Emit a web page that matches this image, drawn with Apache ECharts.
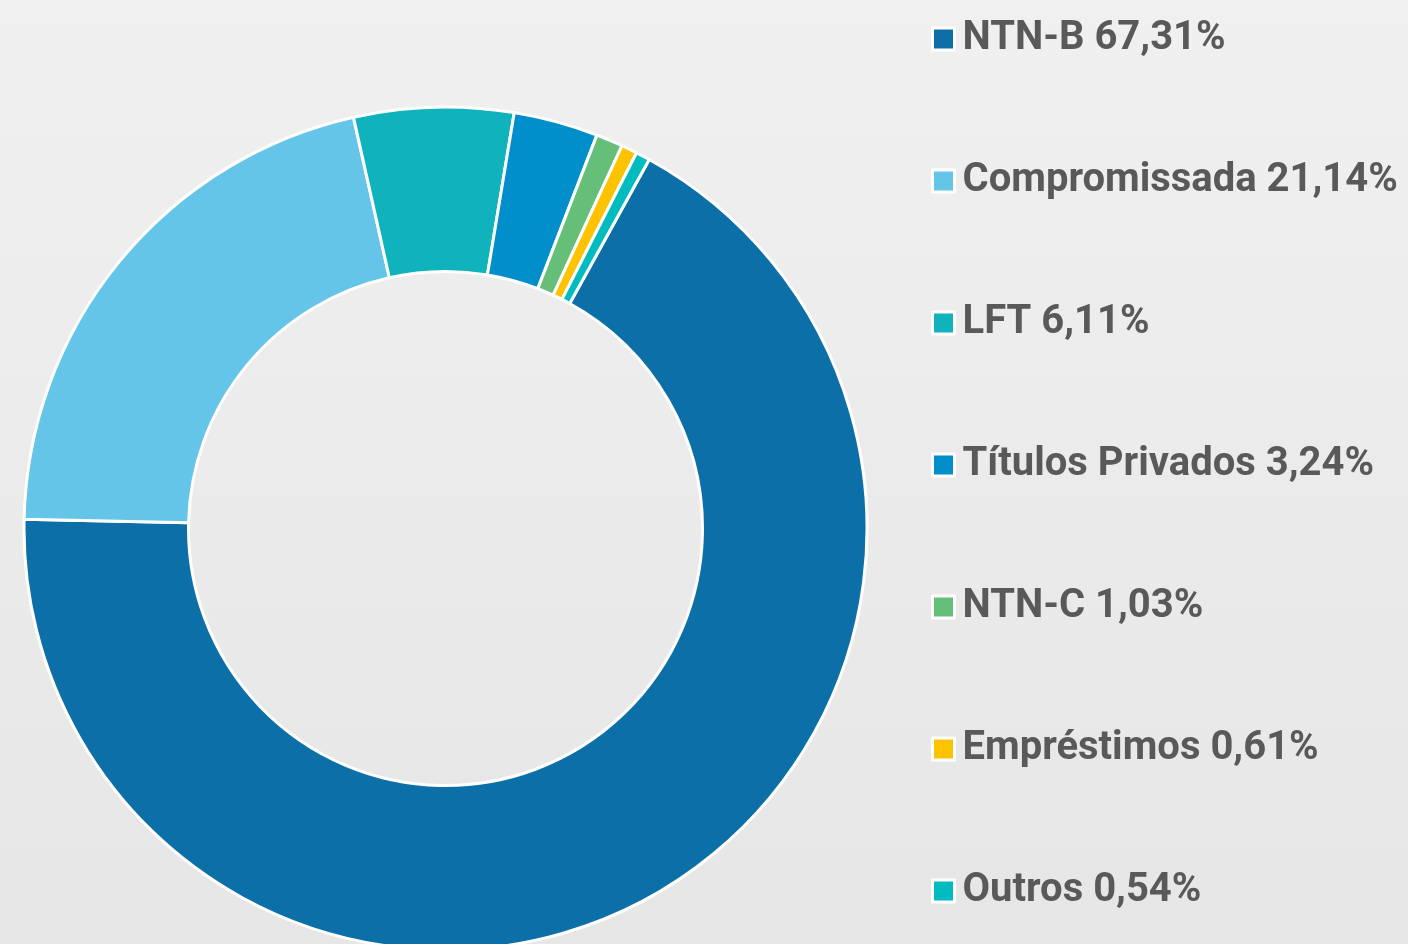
<!DOCTYPE html>
<html>
<head>
<meta charset="utf-8">
<script src="https://cdn.jsdelivr.net/npm/echarts@6/dist/echarts.min.js"></script>
<style>
  html, body { margin: 0; padding: 0; }
  #chart { width: 1408px; height: 944px; }
</style>
</head>
<body>
<div id="chart"></div>
<script>
// dados
var categorias = ["NTN-B", "Compromissada", "LFT", "Títulos Privados", "NTN-C", "Empréstimos", "Outros"];
var percentuais = [67.31, 21.14, 6.11, 3.24, 1.03, 0.61, 0.54];
var cores = ["#0c6fa8", "#64c5e9", "#10b3bb", "#008fcb", "#66bf78", "#fdc200", "#00bcc0"];

var myChart = echarts.init(document.getElementById("chart"));

var dados = categorias.map(function (nome, i) {
  return { name: nome, value: percentuais[i], itemStyle: { color: cores[i] } };
});

var option = {
  //fundo
  backgroundColor: new echarts.graphic.LinearGradient(0, 0, 0, 1, [
    { offset: 0, color: "#f0f0f0" },
    { offset: 1, color: "#e6e6e6" },
  ]),
  //legenda
  legend: {
    orient: "vertical",
    left: 931,
    top: 17,
    padding: 0,
    itemWidth: 22,
    itemHeight: 22,
    itemGap: 98,
    icon: "rect",
    itemStyle: { borderColor: "#ffffff", borderWidth: 3 },
    formatter: function (nome) {
      var i = categorias.indexOf(nome);
      return nome + " " + percentuais[i].toFixed(2).replace(".", ",") + "%";
    },
    textStyle: {
      color: "#595959",
      fontFamily: "Roboto",
      fontWeight: "bold",
      fontSize: 40,
      lineHeight: 44,
      padding: [0, 0, 0, 3],
    },
    selectedMode: false,
  },
  series: [
    {
      type: "pie",
      center: [445.5, 528.5],
      radius: [257, 421.5],
      startAngle: 61.1,
      clockwise: true,
      avoidLabelOverlap: false,
      silent: true,
      label: { show: false },
      labelLine: { show: false },
      itemStyle: { borderColor: "#ffffff", borderWidth: 3 },
      data: dados,
    },
  ],
};

myChart.setOption(option);
</script>
</body>
</html>
